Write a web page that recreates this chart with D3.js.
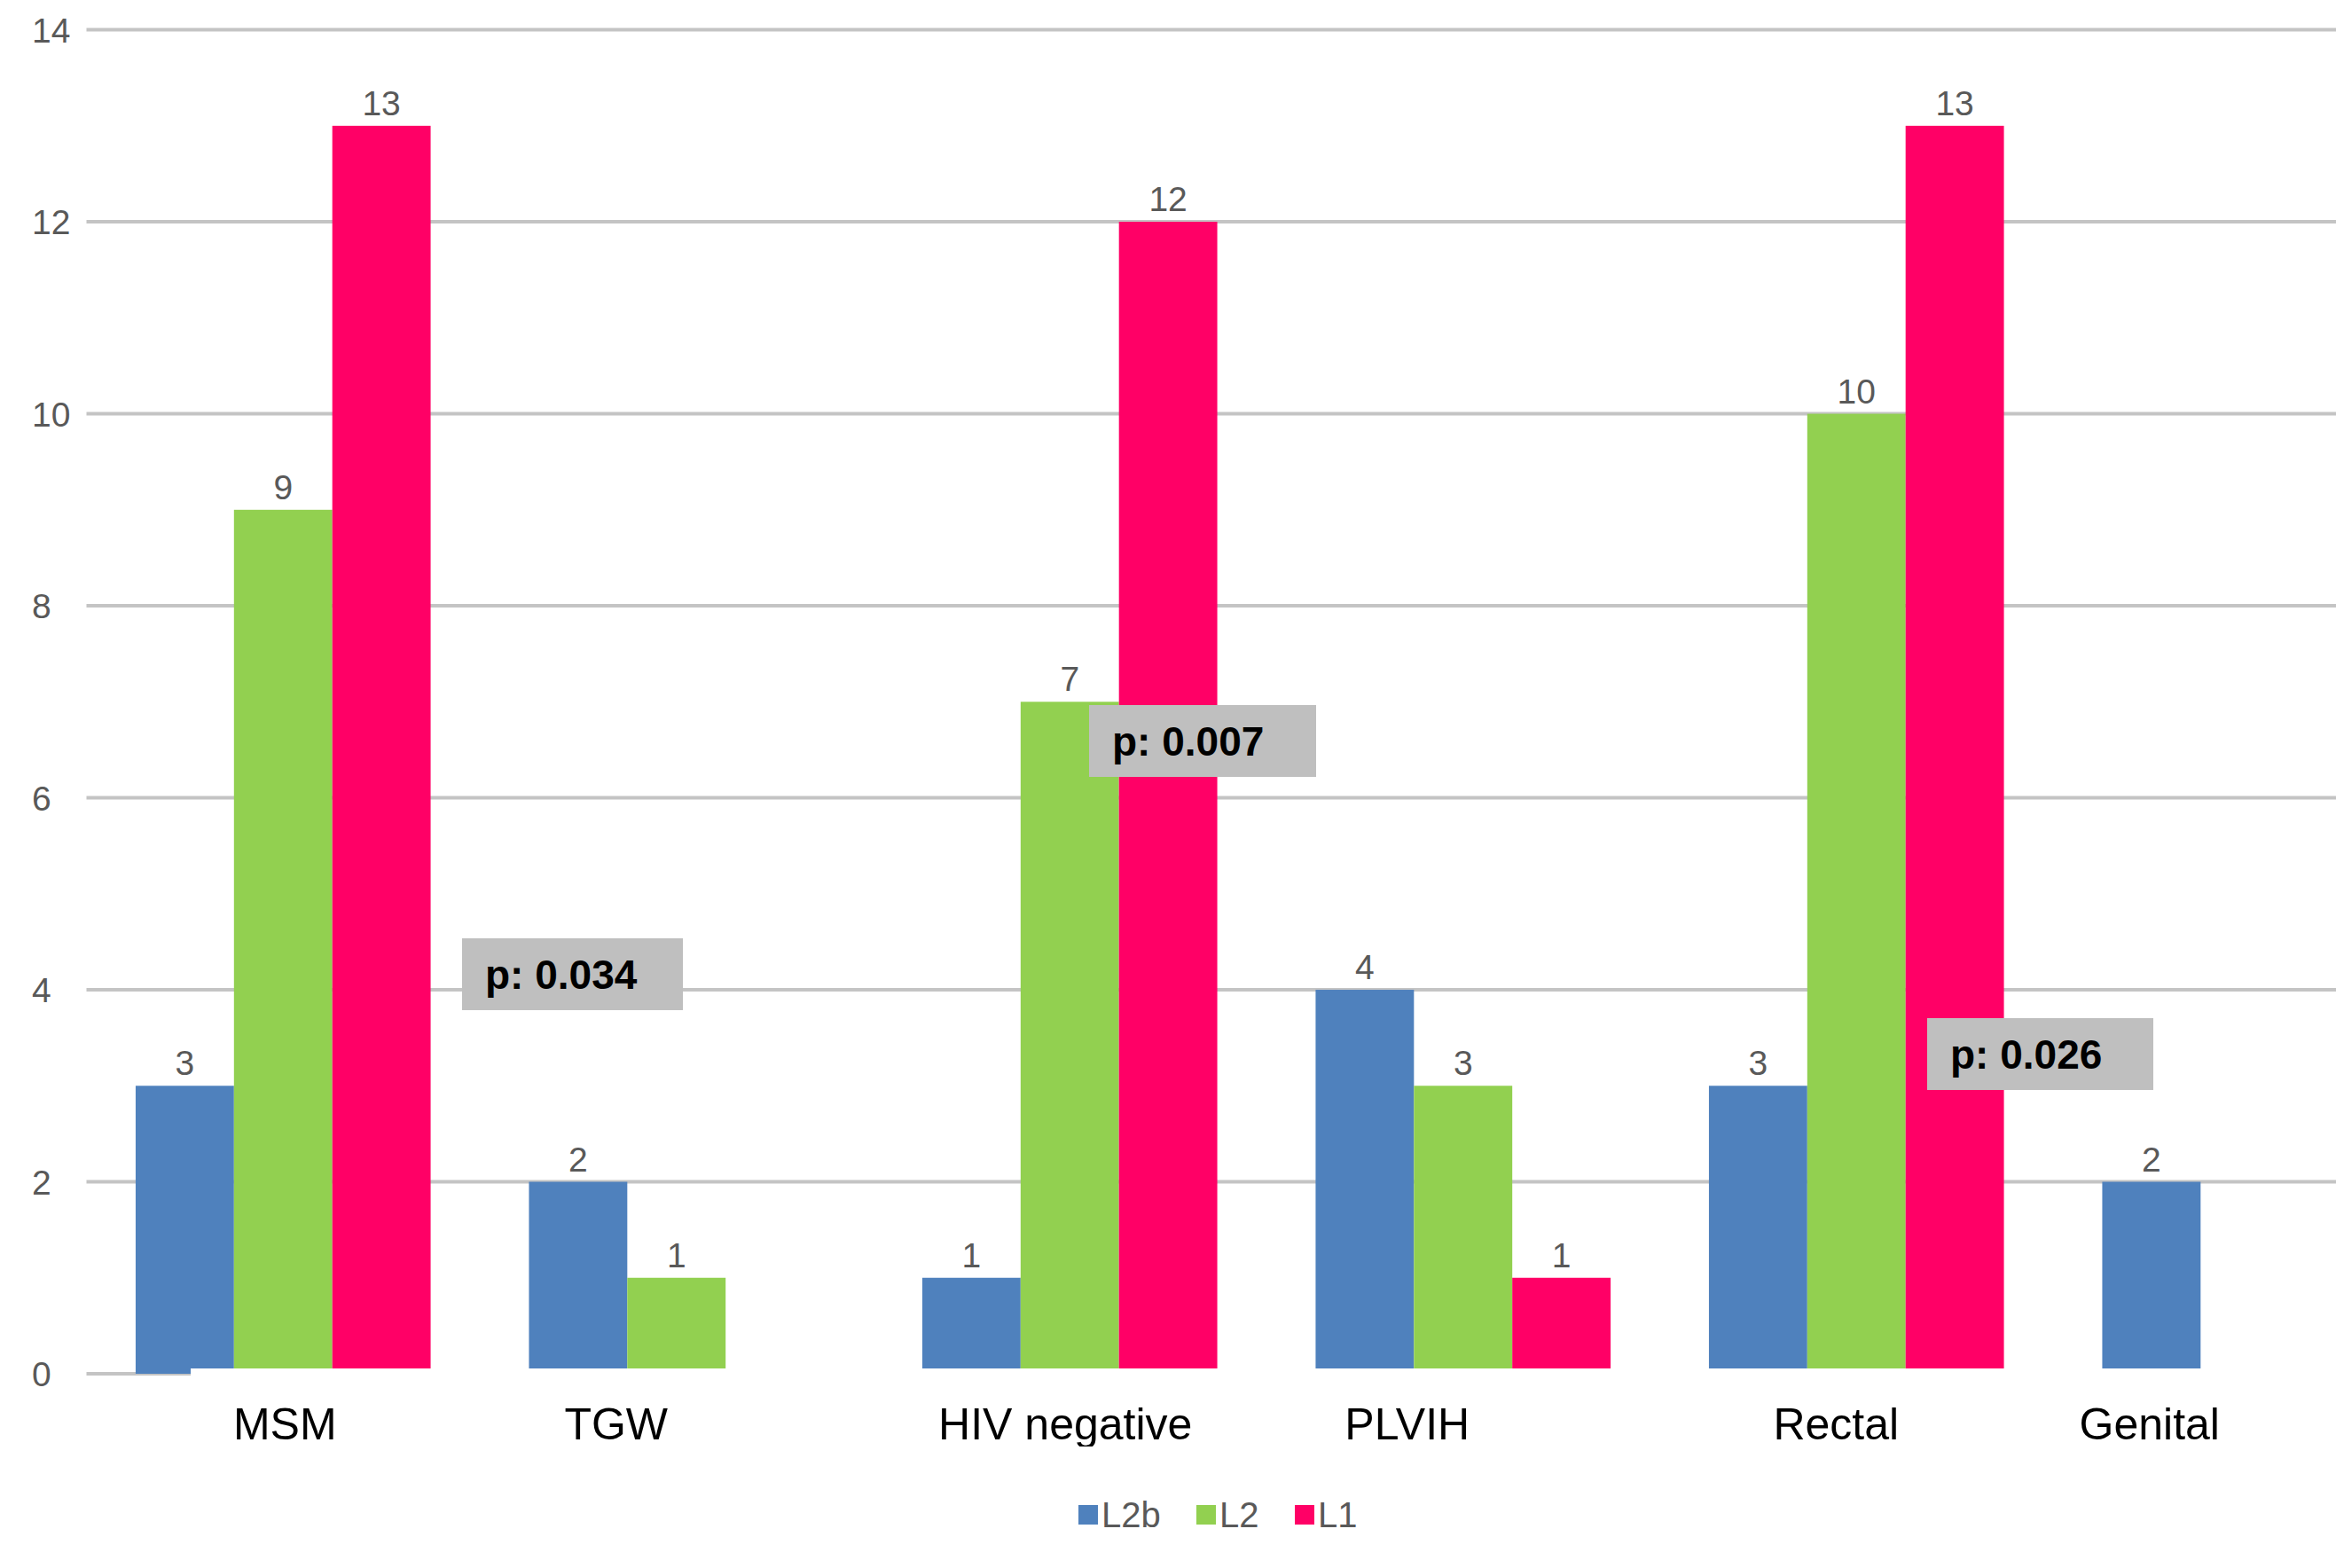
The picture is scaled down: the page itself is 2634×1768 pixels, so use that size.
<!DOCTYPE html>
<html>
<head>
<meta charset="utf-8">
<script src="https://cdn.jsdelivr.net/npm/d3@7"></script>
<style>
  html, body { margin: 0; padding: 0; background: #fff; }
  svg { display: block; }
</style>
</head>
<body>
<svg id="chart" width="2634" height="1768"></svg>
<script>
// ---- data ----
const categories = ["MSM", "TGW", "HIV negative", "PLVIH", "Rectal", "Genital"];
const seriesNames = ["L2b", "L2", "L1"];
const L2b = [3, 2, 1, 4, 3, 2];
const L2  = [9, 1, 7, 3, 10, null];
const L1  = [13, null, 12, 1, 13, null];
const yTicks = [0, 2, 4, 6, 8, 10, 12, 14];
const pLabels = ["p: 0.034", "p: 0.007", "p: 0.026"];

// ---- layout / style ----
const W = 2634, H = 1768;
const colors = { L2b: "#4f81bd", L2: "#92d050", L1: "#ff0066" };
const seriesValues = { L2b: L2b, L2: L2, L1: L1 };
const plotLeft = 97.5, step = 443.5;
const y0px = 1549, y14px = 33.6;
const labelOffsets = [2, -68, -5, -63, -23, -113];
const pBoxes = [
  { x: 521, y: 1058, w: 249, h: 81 },
  { x: 1228, y: 795, w: 256, h: 81 },
  { x: 2173, y: 1148, w: 255, h: 81 }
];

const svg = d3.select("#chart");

const x0 = d3.scaleBand().domain(categories)
  .range([plotLeft, plotLeft + step * categories.length])
  .paddingInner(0).paddingOuter(0);
const x1 = d3.scaleBand().domain(seriesNames)
  .range([0, x0.bandwidth()]).paddingInner(0).paddingOuter(0.5);
const y = d3.scaleLinear().domain([0, 14]).range([y0px, y14px]);

// gridlines
svg.append("g").selectAll("line").data(yTicks).join("line")
  .attr("x1", plotLeft).attr("x2", W)
  .attr("y1", d => y(d)).attr("y2", d => y(d))
  .attr("stroke", "#c4c4c4").attr("stroke-width", 4);

// y tick labels (left-aligned as in the reference)
svg.append("g").selectAll("text").data(yTicks).join("text")
  .attr("x", 36).attr("y", d => y(d))
  .attr("dy", "0.36em")
  .attr("text-anchor", "start")
  .attr("font-family", "Liberation Sans, Arial, sans-serif")
  .attr("font-size", 39).attr("fill", "#595959")
  .text(d => d);

// bars
const barData = [];
categories.forEach((c, i) => {
  seriesNames.forEach(s => {
    const v = seriesValues[s][i];
    if (v != null) barData.push({ cat: c, s: s, v: v });
  });
});

const gBars = svg.append("g");
gBars.selectAll("rect").data(barData).join("rect")
  .attr("x", d => x0(d.cat) + x1(d.s))
  .attr("width", x1.bandwidth())
  .attr("y", d => y(d.v))
  .attr("height", d => y(0) - y(d.v))
  .attr("fill", d => colors[d.s]);

// value labels
svg.append("g").selectAll("text").data(barData).join("text")
  .attr("x", d => x0(d.cat) + x1(d.s) + x1.bandwidth() / 2)
  .attr("y", d => y(d.v) - 12)
  .attr("text-anchor", "middle")
  .attr("font-family", "Liberation Sans, Arial, sans-serif")
  .attr("font-size", 39).attr("fill", "#595959")
  .text(d => d.v);

// pasted white label strip covering the bar bottoms
svg.append("rect")
  .attr("x", 215).attr("y", 1543)
  .attr("width", W - 215).attr("height", 110)
  .attr("fill", "#fff");

// category labels (clipped at bottom like the reference)
svg.append("defs").append("clipPath").attr("id", "catclip")
  .append("rect").attr("x", 0).attr("y", 1543).attr("width", W).attr("height", 88);
svg.append("g").attr("clip-path", "url(#catclip)")
  .selectAll("text").data(categories).join("text")
  .attr("x", (d, i) => x0(d) + x0.bandwidth() / 2 + labelOffsets[i])
  .attr("y", 1623)
  .attr("text-anchor", "middle")
  .attr("font-family", "Liberation Sans, Arial, sans-serif")
  .attr("font-size", 50).attr("fill", "#000")
  .text(d => d);

// p-value boxes
const gP = svg.append("g");
pBoxes.forEach((b, i) => {
  gP.append("rect").attr("x", b.x).attr("y", b.y).attr("width", b.w).attr("height", b.h)
    .attr("fill", "#bfbfbf");
  gP.append("text").attr("x", b.x + 26).attr("y", b.y + 57)
    .attr("font-family", "Liberation Sans, Arial, sans-serif")
    .attr("font-weight", "bold").attr("font-size", 46).attr("fill", "#000")
    .text(pLabels[i]);
});

// legend
const legendX = [1216, 1349, 1460];
const gL = svg.append("g");
seriesNames.forEach((s, i) => {
  gL.append("rect").attr("x", legendX[i]).attr("y", 1697).attr("width", 22).attr("height", 22)
    .attr("fill", colors[s]);
  gL.append("text").attr("x", legendX[i] + 26).attr("y", 1708).attr("dy", "0.36em")
    .attr("font-family", "Liberation Sans, Arial, sans-serif")
    .attr("font-size", 40).attr("fill", "#595959")
    .text(s);
});
</script>
</body>
</html>
